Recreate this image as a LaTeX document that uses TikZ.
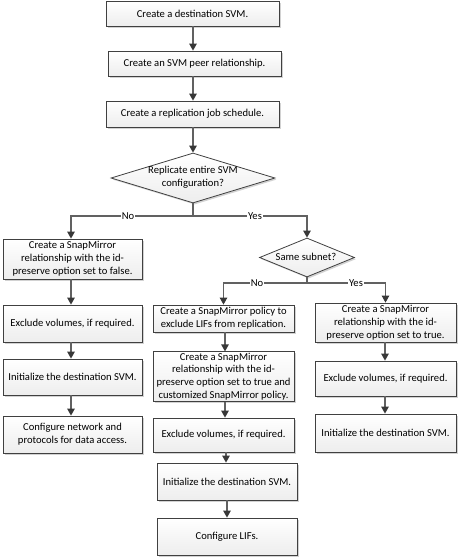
\documentclass[tikz,border=0pt]{standalone}
\usepackage{fontspec}
\setmainfont{Carlito}
\usetikzlibrary{arrows.meta,shapes.geometric,shadows}
\begin{document}
\begin{tikzpicture}[x=1pt,y=-1pt,
  txt/.style={font=\fontsize{10.6}{12.8}\selectfont},
  box/.style={txt, draw=black!75, line width=0.8pt, top color=white, bottom color=black!7,
    drop shadow={shadow xshift=1.6pt, shadow yshift=-1.6pt, fill=black!35, opacity=0.5},
    align=center, inner sep=1pt},
  dia/.style={diamond, draw=black!75, line width=0.8pt, top color=white, bottom color=black!7,
    drop shadow={shadow xshift=1.6pt, shadow yshift=-1.6pt, fill=black!35, opacity=0.5},
    inner sep=0pt},
  dtext/.style={txt, align=center, inner sep=0pt},
  conn/.style={draw=black!62, line width=1.2pt},
  arr/.style={conn, -{Triangle[length=7pt,width=7.5pt,color=black!78]}},
  lbl/.style={txt, fill=white, inner sep=0.6pt}
]
\useasboundingbox (0,0) rectangle (458,558);

% top column
\node[box, minimum width=173pt, minimum height=25pt] (b1) at (192.5,13.5) {Create a destination SVM.};
\node[box, minimum width=173pt, minimum height=25pt] (b2) at (194.5,63.5) {Create an SVM peer relationship.};
\node[box, minimum width=173pt, minimum height=26pt] (b3) at (192.5,114) {Create a replication job schedule.};

\node[dia, minimum width=164pt, minimum height=50pt] (d1) at (193,178) {};
\node[dtext] (d1t) at (193,177) {Replicate entire SVM\\configuration?};

% left column
\node[box, minimum width=139pt, minimum height=40pt] (L1) at (72.5,259) {Create a SnapMirror\\relationship with the id-\\preserve option set to false.};
\node[box, minimum width=139pt, minimum height=37pt] (L2) at (72.5,323.5) {Exclude volumes, if required.};
\node[box, minimum width=139pt, minimum height=36pt] (L3) at (72.5,377) {Initialize the destination SVM.};
\node[box, minimum width=139pt, minimum height=37pt] (L4) at (72.5,434.5) {Configure network and\\protocols for data access.};

% second decision
\node[dia, minimum width=95pt, minimum height=39pt] (d2) at (307,257.5) {};
\node[dtext] (d2t) at (306,257) {Same subnet?};

% middle column
\node[box, minimum width=141pt, minimum height=27pt] (M1) at (223.5,318.5) {Create a SnapMirror policy to\\exclude LIFs from replication.};
\node[box, minimum width=141pt, minimum height=49pt] (M2) at (223.5,376.5) {Create a SnapMirror\\relationship with the id-\\preserve option set to true and\\customized SnapMirror policy.};
\node[box, minimum width=141pt, minimum height=34pt] (M3) at (223.5,435) {Exclude volumes, if required.};
\node[box, minimum width=140pt, minimum height=37pt] (M4) at (227,481.5) {Initialize the destination SVM.};
\node[box, minimum width=140pt, minimum height=37pt] (M5) at (227,536.5) {Configure LIFs.};

% right column
\node[box, minimum width=141pt, minimum height=39pt] (R1) at (385.5,322.5) {Create a SnapMirror\\relationship with the id-\\preserve option set to true.};
\node[box, minimum width=141pt, minimum height=35pt] (R2) at (385.5,378.5) {Exclude volumes, if required.};
\node[box, minimum width=141pt, minimum height=38pt] (R3) at (385.5,433) {Initialize the destination SVM.};

% connectors
\draw[arr] (b1.south -| 193,0) -- (b2.north -| 193,0);
\draw[arr] (b2.south -| 193,0) -- (b3.north -| 193,0);
\draw[arr] (b3.south -| d1.north) -- (d1.north);

\coordinate (j1) at (193,216);
\draw[conn] (d1.south) -- (j1);
\draw[arr] (j1) -| (L1.north -| 71,0);
\draw[arr] (j1) -| (d2.north);
\node[lbl] (no1) at (128,216) {No};
\node[lbl] (yes1) at (255,216) {Yes};

\draw[arr] (L1.south -| 71,0) -- (L2.north -| 71,0);
\draw[arr] (L2.south -| 71,0) -- (L3.north -| 71,0);
\draw[arr] (L3.south -| 71,0) -- (L4.north -| 71,0);

\coordinate (j2) at (307,283);
\draw[conn] (d2.south) -- (j2);
\draw[arr] (j2) -| (M1.north);
\draw[arr] (j2) -| (R1.north);
\node[lbl] (no2) at (257,283) {No};
\node[lbl] (yes2) at (356,283) {Yes};

\draw[arr] (M1.south -| 225,0) -- (M2.north -| 225,0);
\draw[arr] (M2.south -| 225,0) -- (M3.north -| 225,0);
\draw[arr] (M3.south -| 226,0) -- (M4.north -| 226,0);
\draw[arr] (M4.south) -- (M5.north);

\draw[arr] (R1.south -| 385,0) -- (R2.north -| 385,0);
\draw[arr] (R2.south -| 385,0) -- (R3.north -| 385,0);
\end{tikzpicture}
\end{document}
